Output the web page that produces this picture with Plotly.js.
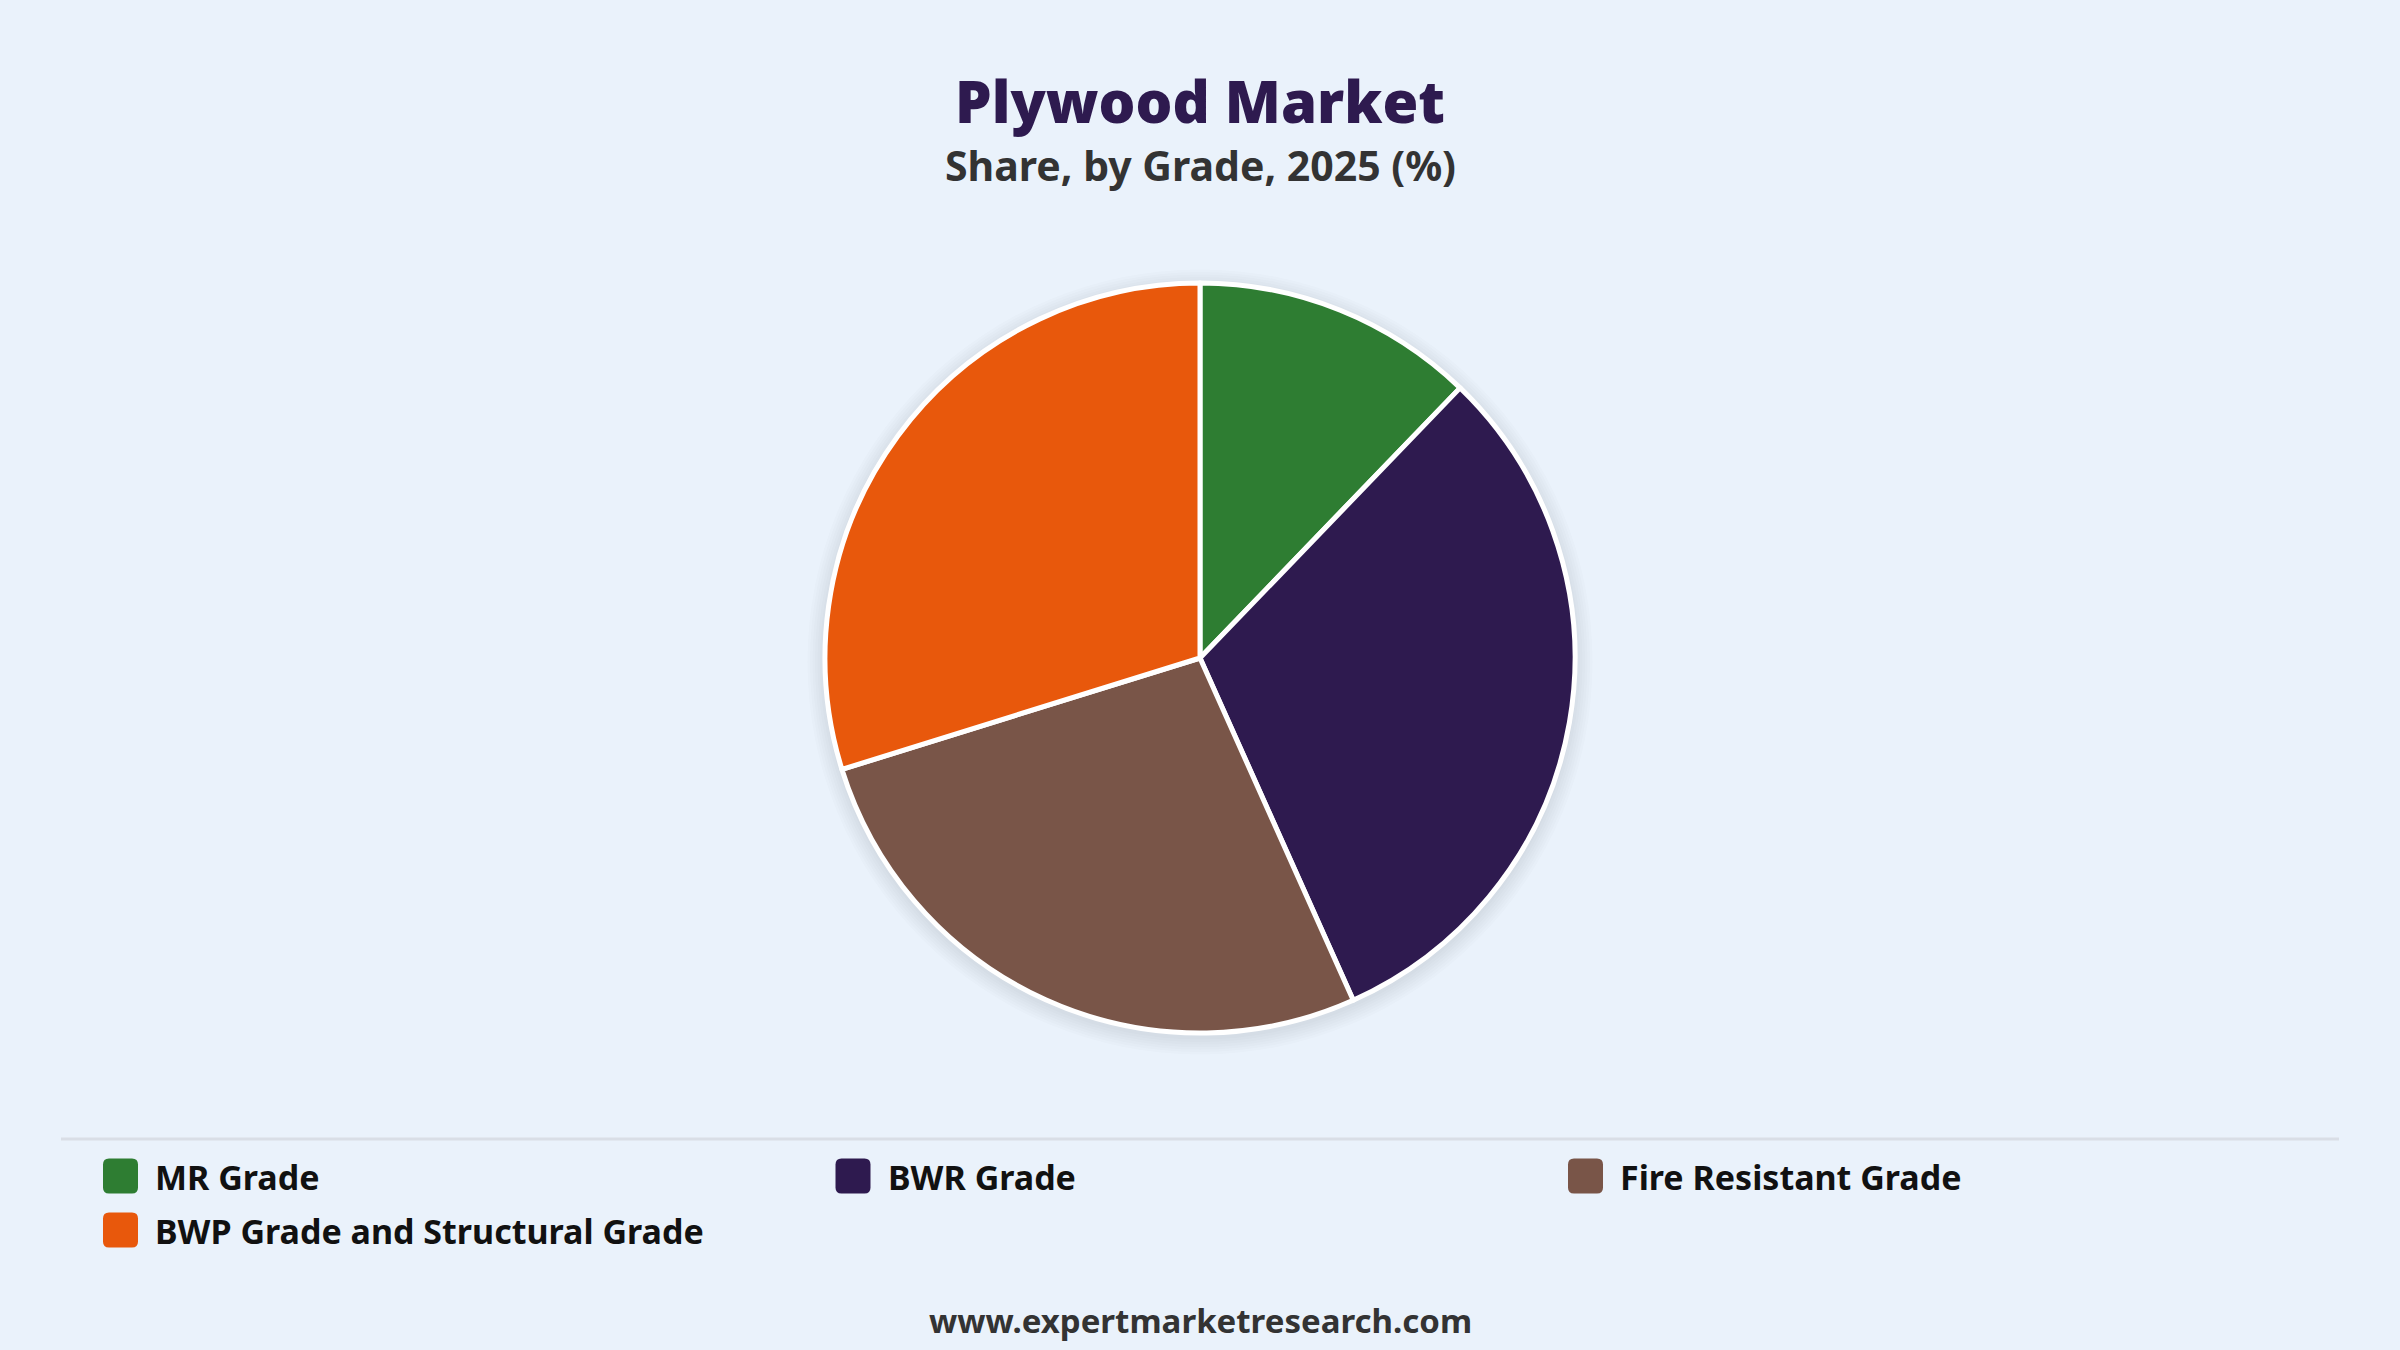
<!DOCTYPE html>
<html>
<head>
<meta charset="utf-8">
<script src="https://cdn.plot.ly/plotly-3.0.1.min.js"></script>
<style>
  html, body { margin: 0; padding: 0; background: #eaf2fb; }
  #chart { width: 2400px; height: 1350px; }
</style>
</head>
<body>
<div id="chart"></div>
<script>
const grades = ['MR Grade', 'BWR Grade', 'Fire Resistant Grade', 'BWP Grade and Structural Grade'];
const shares = [12.2, 31.1, 26.9, 29.8];
const gradeColors = ['#2e7d32', '#2e1a4f', '#795548', '#e8580c'];

const W = 2400, H = 1350;
const BG = '#eaf2fb';
const FONT = '"Noto Sans", "Open Sans", sans-serif';

// pixel -> paper helpers (margins are zero so paper == figure)
function px(x) { return x / W; }
function py(y) { return 1 - y / H; }

const pieCx = 1200, pieCy = 658, pieR = 375;

const shapes = [];
const annotations = [];

// soft shadow behind the pie
for (let k = 1; k <= 7; k++) {
  const r = pieR + k * 2.5;
  const cy = pieCy + 4;
  shapes.push({
    type: 'circle', xref: 'paper', yref: 'paper', layer: 'below',
    x0: px(pieCx - r), x1: px(pieCx + r), y0: py(cy + r), y1: py(cy - r),
    fillcolor: 'rgba(60,70,90,0.016)', line: {width: 0}
  });
}

// separator above the legend
shapes.push({
  type: 'line', xref: 'paper', yref: 'paper',
  x0: px(61), x1: px(2339), y0: py(1139), y1: py(1139),
  line: {color: '#d9dee6', width: 3}
});

// legend boxes + labels
function roundRect(x, y, w, h, r) {
  const X = v => px(v), Y = v => py(v);
  return 'M' + X(x + r) + ',' + Y(y) +
    ' L' + X(x + w - r) + ',' + Y(y) +
    ' Q' + X(x + w) + ',' + Y(y) + ' ' + X(x + w) + ',' + Y(y + r) +
    ' L' + X(x + w) + ',' + Y(y + h - r) +
    ' Q' + X(x + w) + ',' + Y(y + h) + ' ' + X(x + w - r) + ',' + Y(y + h) +
    ' L' + X(x + r) + ',' + Y(y + h) +
    ' Q' + X(x) + ',' + Y(y + h) + ' ' + X(x) + ',' + Y(y + h - r) +
    ' L' + X(x) + ',' + Y(y + r) +
    ' Q' + X(x) + ',' + Y(y) + ' ' + X(x + r) + ',' + Y(y) + ' Z';
}

grades.forEach(function(g, i) {
  const col = i % 3, row = Math.floor(i / 3);
  const sx = 103 + col * 732.5;
  const cy = 1176 + row * 54;
  shapes.push({
    type: 'path', xref: 'paper', yref: 'paper',
    path: roundRect(sx, cy - 17.5, 35, 35, 6),
    fillcolor: gradeColors[i], line: {width: 0}
  });
  annotations.push({
    xref: 'paper', yref: 'paper', x: px(sx + 50), y: py(cy + 1),
    xanchor: 'left', yanchor: 'middle', showarrow: false,
    text: '<b>' + g + '</b>',
    font: {family: FONT, size: 34, color: '#111111'}
  });
});

// titles and footer
annotations.push({
  xref: 'paper', yref: 'paper', x: 0.5, y: py(100), xanchor: 'center', yanchor: 'middle',
  showarrow: false, text: 'Plywood Market',
  font: {family: FONT, size: 58, color: '#2e1a4f', weight: 900}
});
annotations.push({
  xref: 'paper', yref: 'paper', x: 0.5, y: py(165), xanchor: 'center', yanchor: 'middle',
  showarrow: false, text: '<b>Share, by Grade, 2025 (%)</b>',
  font: {family: FONT, size: 41, color: '#333333'}
});
annotations.push({
  xref: 'paper', yref: 'paper', x: 0.5, y: py(1320), xanchor: 'center', yanchor: 'middle',
  showarrow: false, text: '<b>www.expertmarketresearch.com</b>',
  font: {family: FONT, size: 33, color: '#333333'}
});

const trace = {
  type: 'pie',
  labels: grades,
  values: shares,
  sort: false,
  direction: 'clockwise',
  rotation: 0,
  textinfo: 'none',
  hoverinfo: 'label+percent',
  showlegend: false,
  marker: {colors: gradeColors, line: {color: '#ffffff', width: 5}},
  domain: {x: [0, 1], y: [py(pieCy + pieR), py(pieCy - pieR)]}
};

const layout = {
  width: W, height: H,
  margin: {l: 0, r: 0, t: 0, b: 0, pad: 0},
  paper_bgcolor: BG,
  plot_bgcolor: BG,
  showlegend: false,
  shapes: shapes,
  annotations: annotations
};

Plotly.newPlot('chart', [trace], layout, {displayModeBar: false, staticPlot: true});
</script>
</body>
</html>
